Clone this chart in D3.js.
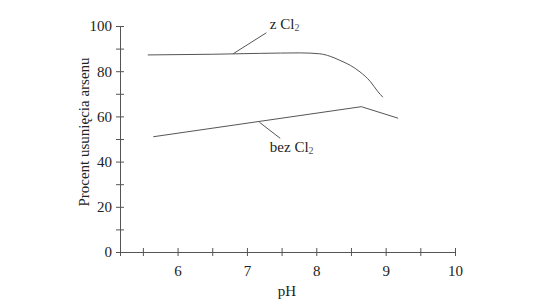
<!DOCTYPE html>
<html>
<head>
<meta charset="utf-8">
<script src="https://cdn.jsdelivr.net/npm/d3@7"></script>
<style>
  body { margin: 0; background: #fff; }
  svg text { font-family: "Liberation Serif", "Times New Roman", serif; fill: #222; }
</style>
</head>
<body>
<svg id="chart" width="540" height="303"></svg>
<script>
// data
const withCl2 = [[5.57, 87.2], [6.5, 87.5], [7.2, 87.9], [7.77, 88.1], [8.05, 87.7], [8.2, 86.6],
    [8.34, 84.8], [8.49, 82.6], [8.63, 79.7], [8.78, 75.4], [8.89, 70.9], [8.96, 68.5]];
const withoutCl2 = [[5.65, 51], [8.65, 64.3], [9.18, 59.2]];
const xTicks = [5.5, 6, 6.5, 7, 7.5, 8, 8.5, 9, 9.5, 10];
const yTicks = [0, 10, 20, 30, 40, 50, 60, 70, 80, 90, 100];
// label position (pH, %) and the leader from the label to the line
const labels = [
    {name: "z Cl", sub: "2", at: [7.33, 98.7], from: [7.28, 97], to: [6.8, 87.7]},
    {name: "bez Cl", sub: "2", at: [7.33, 44.1], from: [7.48, 50.3], to: [7.18, 57.4]},
];

const svg = d3.select("#chart");
const x = d3.scaleLinear().domain([5.17, 10]).range([120, 455]);
const y = d3.scaleLinear().domain([0, 100]).range([252, 26]);

const xAxis = d3.axisBottom(x).tickValues(xTicks).tickSizeOuter(0).tickSize(4)
    .tickFormat(d => Number.isInteger(d) ? d : "");
const yAxis = d3.axisLeft(y).tickValues(yTicks).tickSizeOuter(0).tickSize(4)
    .tickFormat(d => d % 20 === 0 ? d : "");

const gx = svg.append("g").attr("transform", `translate(0,${y(0)})`).call(xAxis);
gx.selectAll(".tick line").attr("y1", -4).attr("y2", 4);
gx.selectAll(".tick text").attr("y", 13);

const gy = svg.append("g").attr("transform", `translate(${x(5.17)},0)`).call(yAxis);
gy.selectAll(".tick line").attr("x1", -4).attr("x2", 4);
gy.selectAll(".tick text").attr("x", -8);

svg.selectAll("g").attr("font-family", "Liberation Serif").attr("font-size", 15);
svg.selectAll(".domain, .tick line").attr("stroke", "#555");

// axis titles
svg.append("text").attr("x", 287).attr("y", 296).attr("text-anchor", "middle")
    .style("font-size", "15px").text("pH");
svg.append("text").attr("transform", "translate(89,132) rotate(-90)")
    .attr("text-anchor", "middle").style("font-size", "15px").text("Procent usunięcia arsenu");

const line = d3.line().x(d => x(d[0])).y(d => y(d[1]));

svg.append("path").datum(withCl2).attr("fill", "none").attr("stroke", "#555")
    .attr("stroke-width", 1).attr("d", line.curve(d3.curveMonotoneX));
svg.append("path").datum(withoutCl2).attr("fill", "none").attr("stroke", "#555")
    .attr("stroke-width", 1).attr("d", line.curve(d3.curveLinear));

labels.forEach(l => {
    svg.append("line").attr("x1", x(l.from[0])).attr("y1", y(l.from[1]))
        .attr("x2", x(l.to[0])).attr("y2", y(l.to[1])).attr("stroke", "#555");
    const t = svg.append("text").attr("x", x(l.at[0])).attr("y", y(l.at[1])).style("font-size", "15px");
    t.append("tspan").text(l.name);
    t.append("tspan").attr("dy", 2).style("font-size", "10px").style("fill", "#555").text(l.sub);
});
</script>
</body>
</html>
